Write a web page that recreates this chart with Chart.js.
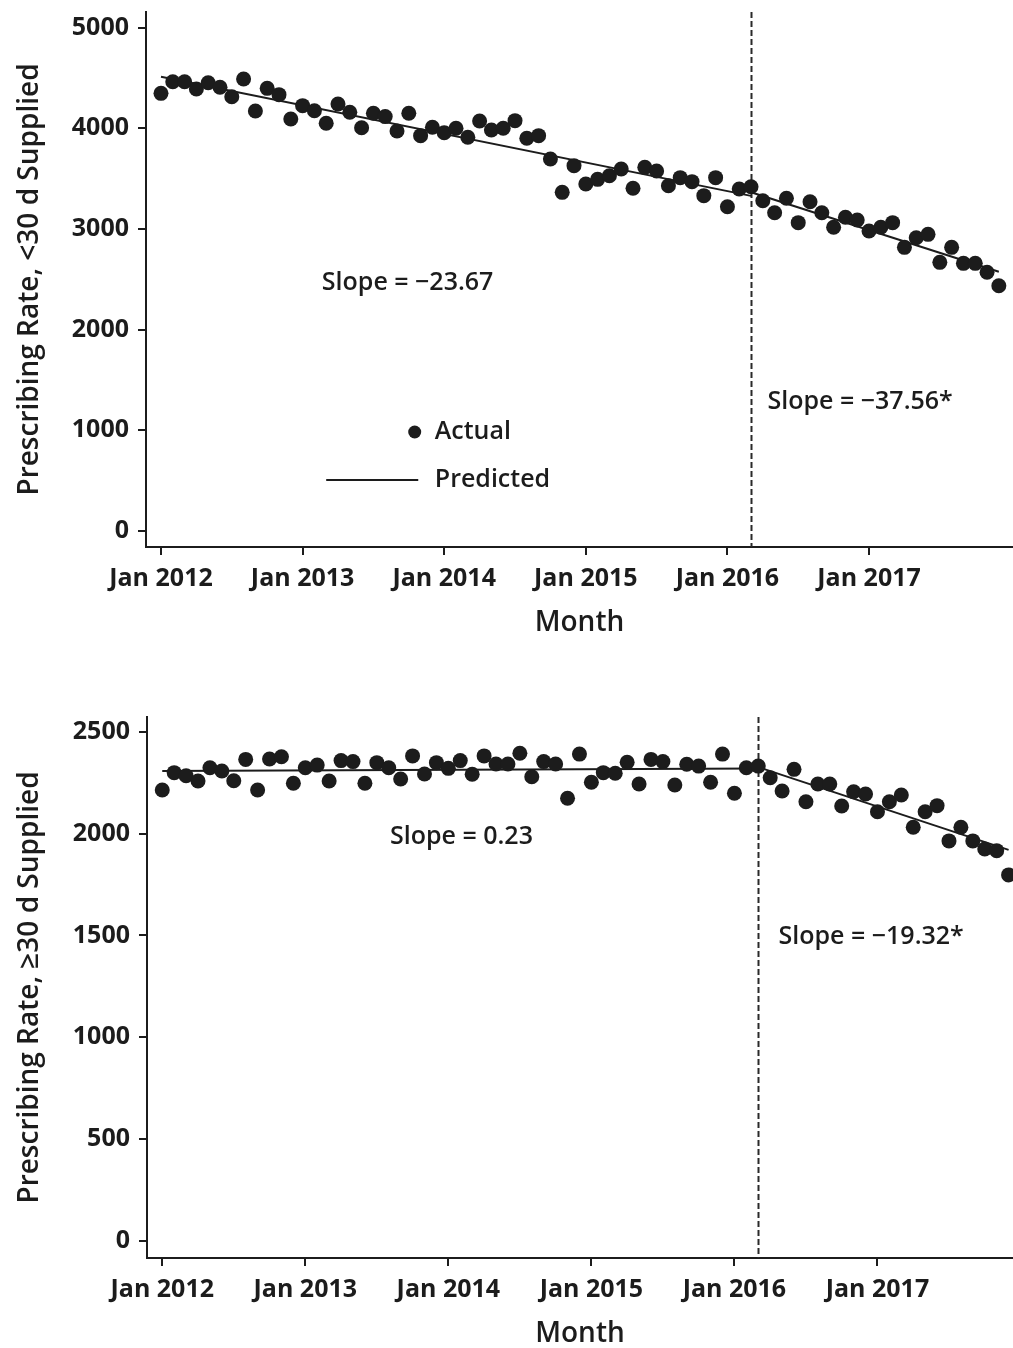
<!DOCTYPE html>
<html>
<head>
<meta charset="utf-8">
<title>Prescribing rate interrupted time series</title>
<script src="https://cdn.jsdelivr.net/npm/chart.js@4.4.1/dist/chart.umd.min.js"></script>
<style>
  body { margin: 0; background: #fff; }
  .panel { position: relative; width: 1013px; }
  canvas { display: block; }
</style>
</head>
<body>
<div class="panel" style="height:660px"><canvas id="shortChart" width="1013" height="660"></canvas></div>
<div class="panel" style="height:688px"><canvas id="longChart" width="1013" height="688"></canvas></div>
<script>
// Month index 0 = Jan 2012 ... 71 = Dec 2017
const xTickMonths = [0, 12, 24, 36, 48, 60];
const xTickLabels = ['Jan 2012', 'Jan 2013', 'Jan 2014', 'Jan 2015', 'Jan 2016', 'Jan 2017'];
const policyMonth = 50; // Mar 2016

// <30 d supplied
const shortTicks = [0, 1000, 2000, 3000, 4000, 5000];
const shortActual = [
  4346, 4462, 4462, 4389, 4452, 4406, 4313, 4489, 4171, 4396, 4333, 4091,
  4224, 4174, 4049, 4240, 4158, 4005, 4148, 4115, 3972, 4148, 3926, 4009,
  3956, 3999, 3910, 4072, 3982, 3999, 4075, 3900, 3926, 3694, 3363, 3628,
  3446, 3492, 3528, 3595, 3403, 3611, 3575, 3429, 3509, 3469, 3330, 3509,
  3220, 3396, 3419, 3280, 3161, 3304, 3062, 3270, 3161, 3016, 3115, 3088,
  2979, 3016, 3062, 2817, 2912, 2946, 2668, 2817, 2658, 2658, 2569, 2436
];
const shortPredPre = [[0, 4511], [50, 3328]];
const shortPredPost = [[50, 3364], [71, 2575]];

// >=30 d supplied
const longTicks = [0, 500, 1000, 1500, 2000, 2500];
const longActual = [
  2214, 2299, 2284, 2258, 2323, 2307, 2259, 2364, 2214, 2366, 2377, 2247,
  2323, 2336, 2258, 2358, 2353, 2247, 2348, 2323, 2268, 2381, 2292, 2348,
  2320, 2358, 2291, 2381, 2341, 2341, 2394, 2279, 2353, 2341, 2173, 2390,
  2252, 2299, 2296, 2350, 2243, 2364, 2353, 2238, 2340, 2331, 2252, 2390,
  2198, 2323, 2331, 2274, 2209, 2315, 2156, 2243, 2243, 2135, 2205, 2194,
  2107, 2156, 2189, 2031, 2107, 2137, 1964, 2031, 1964, 1924, 1916, 1797
];
const longPredPre = [[0, 2307], [50, 2319]];
const longPredPost = [[50, 2326], [71, 1920]];

const INK = '#1c1c1c';
const FONT = '"Open Sans", "Noto Sans", sans-serif';

const toPoints = arr => arr.map((v, i) => ({ x: i, y: v }));
const toLine = arr => arr.map(p => ({ x: p[0], y: p[1] }));

// dashed interruption line, slope labels and the legend
const panelNotes = {
  id: 'panelNotes',
  beforeDatasetsDraw(chart, args, opts) {
    const { ctx, chartArea, scales: { x } } = chart;
    const px = Math.round(x.getPixelForValue(opts.breakMonth)) + 0.5;
    ctx.save();
    ctx.strokeStyle = '#2a2a2a';
    ctx.lineWidth = 2;
    ctx.setLineDash([6, 3]);
    ctx.beginPath();
    ctx.moveTo(px, chartArea.top);
    ctx.lineTo(px, chartArea.bottom);
    ctx.stroke();
    ctx.restore();
  },
  afterDatasetsDraw(chart, args, opts) {
    const { ctx, scales: { x, y } } = chart;
    ctx.save();
    ctx.fillStyle = INK;
    ctx.font = '600 25px ' + FONT;
    ctx.textBaseline = 'middle';
    opts.notes.forEach(n => {
      ctx.textAlign = n.align;
      ctx.fillText(n.text, x.getPixelForValue(n.x), y.getPixelForValue(n.y));
    });
    if (opts.legend) {
      const lg = opts.legend;
      ctx.beginPath();
      ctx.arc(x.getPixelForValue(lg.dotX), y.getPixelForValue(lg.actualY), 6.5, 0, Math.PI * 2);
      ctx.fill();
      ctx.strokeStyle = INK;
      ctx.lineWidth = 2;
      ctx.beginPath();
      ctx.moveTo(x.getPixelForValue(lg.lineX[0]), y.getPixelForValue(lg.predY));
      ctx.lineTo(x.getPixelForValue(lg.lineX[1]), y.getPixelForValue(lg.predY));
      ctx.stroke();
      ctx.textAlign = 'left';
      ctx.fillText('Actual', x.getPixelForValue(lg.textX), y.getPixelForValue(lg.actualY));
      ctx.fillText('Predicted', x.getPixelForValue(lg.textX), y.getPixelForValue(lg.predY));
    }
    ctx.restore();
  }
};

function buildChart(id, cfg) {
  const lineStyle = { showLine: true, borderColor: INK, borderWidth: 2, pointRadius: 0, fill: false };
  return new Chart(document.getElementById(id), {
    type: 'scatter',
    data: {
      datasets: [
        { label: 'Actual', data: toPoints(cfg.actual), pointRadius: 7.5, pointBackgroundColor: INK, pointBorderWidth: 0 },
        Object.assign({ label: 'Predicted' }, lineStyle, { data: toLine(cfg.pre) }),
        Object.assign({ label: 'Predicted post' }, lineStyle, { data: toLine(cfg.post) })
      ]
    },
    options: {
      responsive: false,
      animation: false,
      layout: { autoPadding: false, padding: { top: cfg.top, left: 0, right: 0, bottom: 0 } },
      plugins: {
        legend: { display: false },
        tooltip: { enabled: false },
        panelNotes: { breakMonth: policyMonth, notes: cfg.notes, legend: cfg.legend }
      },
      scales: {
        x: {
          type: 'linear',
          min: cfg.xMin,
          max: cfg.xMax,
          afterBuildTicks: s => { s.ticks = xTickMonths.map(v => ({ value: v })); },
          afterFit: s => { s.height = cfg.xHeight; s.paddingLeft = 0; s.paddingRight = 0; },
          ticks: {
            callback: (v, i) => xTickLabels[i],
            autoSkip: false,
            maxRotation: 0,
            padding: 9,
            color: INK,
            font: { family: FONT, size: 25, weight: '700' }
          },
          grid: { drawOnChartArea: false, tickLength: 8, color: INK, lineWidth: 2 },
          border: { display: true, color: INK, width: 2 },
          title: {
            display: true,
            text: 'Month',
            color: INK,
            padding: { top: 0, bottom: cfg.monthPad },
            font: { family: FONT, size: 28, weight: '600', lineHeight: 1 }
          }
        },
        y: {
          min: cfg.yMin,
          max: cfg.yMax,
          afterBuildTicks: s => { s.ticks = cfg.yTicks.map(v => ({ value: v })); },
          afterFit: s => { s.width = cfg.yWidth; s.paddingTop = 0; s.paddingBottom = 0; },
          ticks: {
            callback: v => String(v),
            padding: 9,
            color: INK,
            font: { family: FONT, size: 25, weight: '700' }
          },
          grid: { drawOnChartArea: false, tickLength: 8, color: INK, lineWidth: 2 },
          border: { display: true, color: INK, width: 2 },
          title: {
            display: true,
            text: cfg.yTitle,
            color: INK,
            padding: { top: 16, bottom: 0 },
            font: { family: FONT, size: 28, weight: '600', lineHeight: 1 }
          }
        }
      }
    },
    plugins: [panelNotes]
  });
}

buildChart('shortChart', {
  actual: shortActual, pre: shortPredPre, post: shortPredPost,
  yTicks: shortTicks, yMin: -159, yMax: 5154,
  xMin: -1.27, xMax: 72.2,
  top: 12, xHeight: 113, yWidth: 146, monthPad: 23,
  yTitle: 'Prescribing Rate, <30 d Supplied',
  notes: [
    { text: 'Slope = \u221223.67', x: 20.9, y: 2463, align: 'center' },
    { text: 'Slope = \u221237.56*', x: 51.4, y: 1281, align: 'left' }
  ],
  legend: { dotX: 21.5, textX: 23.2, lineX: [14.0, 21.8], actualY: 983, predY: 506 }
});

buildChart('longChart', {
  actual: longActual, pre: longPredPre, post: longPredPost,
  yTicks: longTicks, yMin: -83, yMax: 2572,
  xMin: -1.28, xMax: 71.37,
  top: 57, xHeight: 90, yWidth: 147, monthPad: 0,
  yTitle: 'Prescribing Rate, \u226530 d Supplied',
  notes: [
    { text: 'Slope = 0.23', x: 25.1, y: 1983, align: 'center' },
    { text: 'Slope = \u221219.32*', x: 51.7, y: 1493, align: 'left' }
  ],
  legend: null
});
</script>
</body>
</html>
